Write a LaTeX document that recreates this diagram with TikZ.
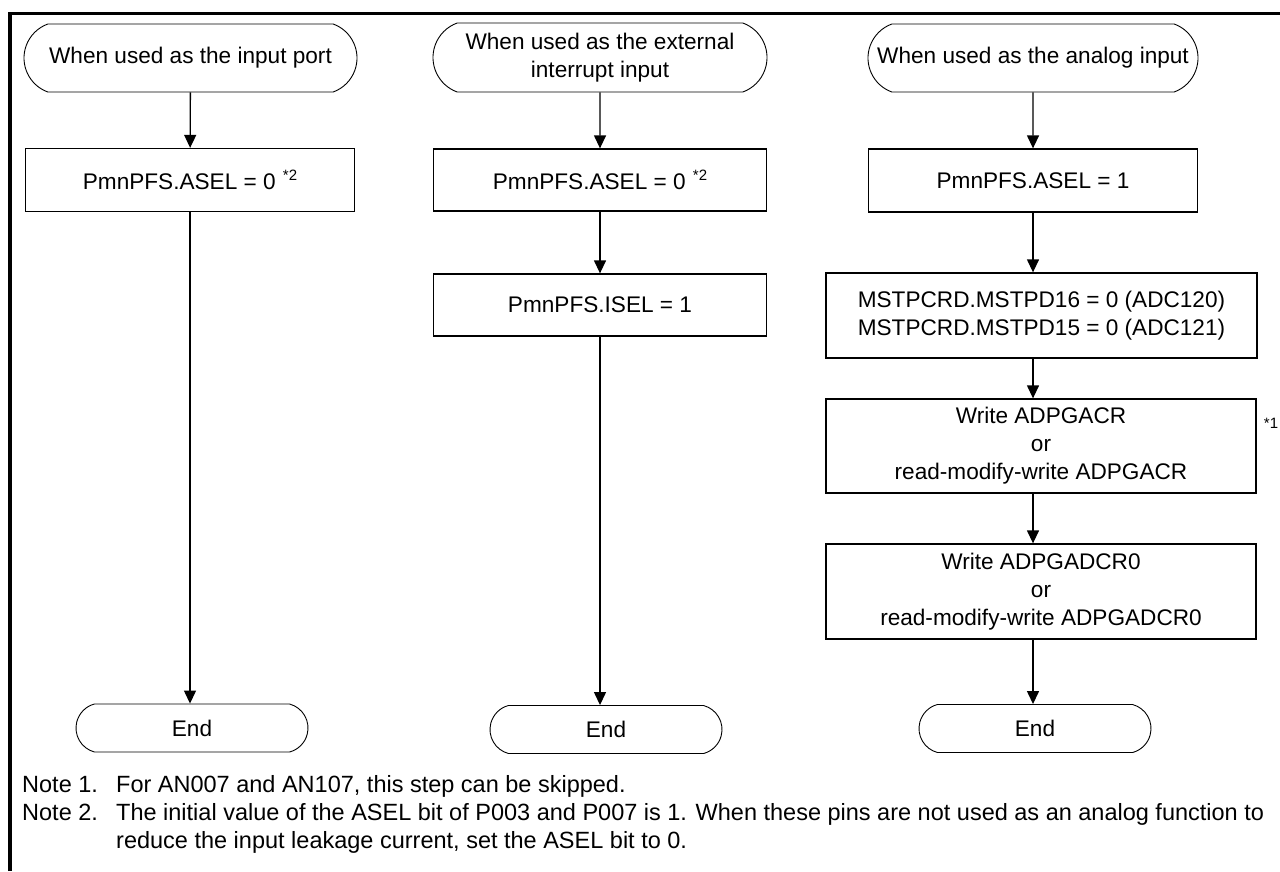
\documentclass[tikz,border=0pt]{standalone}
\usepackage{fontspec}
\setmainfont{Liberation Sans}
\usepackage{xcolor}
\usepackage{tikz}
\usetikzlibrary{arrows.meta,shapes.misc}

\newcommand{\notemark}[1]{\hspace{1pt}{\fontsize{15}{15}\selectfont\raisebox{9pt}{#1}}}

\tikzset{
  termnode/.style={draw, line width=0.9pt, rounded rectangle, rounded rectangle arc length=140,
    inner sep=0pt, minimum width=#1, minimum height=68pt, align=center},
  endnode/.style={draw, line width=0.9pt, rounded rectangle, rounded rectangle arc length=150,
    inner sep=0pt, minimum width=232pt, minimum height=48pt},
  stepbox/.style={draw, line width=1.3pt, rectangle, inner sep=0pt, minimum width=#1, align=center},
  flowarr/.style={line width=1.3pt, -{Triangle[width=12pt,length=13pt]}},
  notetext/.style={inner sep=0pt, anchor=base west, font=\fontsize{23.5}{28}\selectfont}
}

\begin{document}
\begin{tikzpicture}[x=1pt, y=-1pt, font=\fontsize{22.6}{28}\selectfont]
    \useasboundingbox (0,0) rectangle (1280,871);
    \draw[line width=3.5pt] (10,871) -- (10,13.3) -- (1280,13.3);

    \node[termnode=333pt] (inport) at (190.5,58) {When used as the input port};
    \node[stepbox=329pt, minimum height=63pt] (inasel) at (190,180) {PmnPFS.ASEL = 0 \notemark{*2}};
    \node[endnode] (inend) at (192,728) {End};
    \draw[flowarr] (inport) -- (inasel);
    \draw[flowarr] (inasel.south) -- (inasel.south |- inend.north);

    \node[termnode=334pt, minimum height=69pt] (irq) at (600,57.5) {When used as the external\\interrupt input};
    \node[stepbox=333pt, minimum height=62pt] (irqasel) at (600,180) {PmnPFS.ASEL = 0 \notemark{*2}};
    \node[stepbox=333pt, minimum height=62pt] (irqisel) at (600,305) {PmnPFS.ISEL = 1};
    \node[endnode] (irqend) at (606,729.5) {End};
    \draw[flowarr] (irq) -- (irqasel);
    \draw[flowarr] (irqasel) -- (irqisel);
    \draw[flowarr] (irqisel.south) -- (irqisel.south |- irqend.north);

    \node[termnode=330pt] (ana) at (1033,58) {When used as the analog input};
    \node[stepbox=329pt, minimum height=63pt] (anaasel) at (1033,180.5) {PmnPFS.ASEL = 1};
    \node[stepbox=431pt, minimum height=85pt] (mstp) at (1041.5,315.5) {MSTPCRD.MSTPD16 = 0 (ADC120)\\MSTPCRD.MSTPD15 = 0 (ADC121)};
    \node[stepbox=430pt, minimum height=94pt] (pgacr) at (1041,446) {Write ADPGACR\\or\\read-modify-write ADPGACR};
    \node[stepbox=430pt, minimum height=95pt] (pgadcr) at (1041,591.5) {Write ADPGADCR0\\or\\read-modify-write ADPGADCR0};
    \node[endnode] (anaend) at (1035,728.5) {End};
    \node[font=\fontsize{15}{15}\selectfont, inner sep=0pt] (mark1) at (1271,423) {*1};
    \draw[flowarr] (ana) -- (anaasel);
    \draw[flowarr] (anaasel.south) -- (anaasel.south |- mstp.north);
    \draw[flowarr] (mstp.south -| anaasel) -- (anaasel |- pgacr.north);
    \draw[flowarr] (pgacr.south -| anaasel) -- (anaasel |- pgadcr.north);
    \draw[flowarr] (pgadcr.south -| anaasel) -- (anaasel |- anaend.north);

    \node[notetext] (note1) at (22,792) {Note 1.};
    \node[notetext] (note1txt) at (116,792) {For AN007 and AN107, this step can be skipped.};
    \node[notetext] (note2) at (22,820) {Note 2.};
    \node[notetext] (note2txt) at (116,820) {The initial value of the ASEL bit of P003 and P007 is 1. When these pins are not used as an analog function to};
    \node[notetext] (note2more) at (116,848) {reduce the input leakage current, set the ASEL bit to 0.};
  \end{tikzpicture}
\end{document}
